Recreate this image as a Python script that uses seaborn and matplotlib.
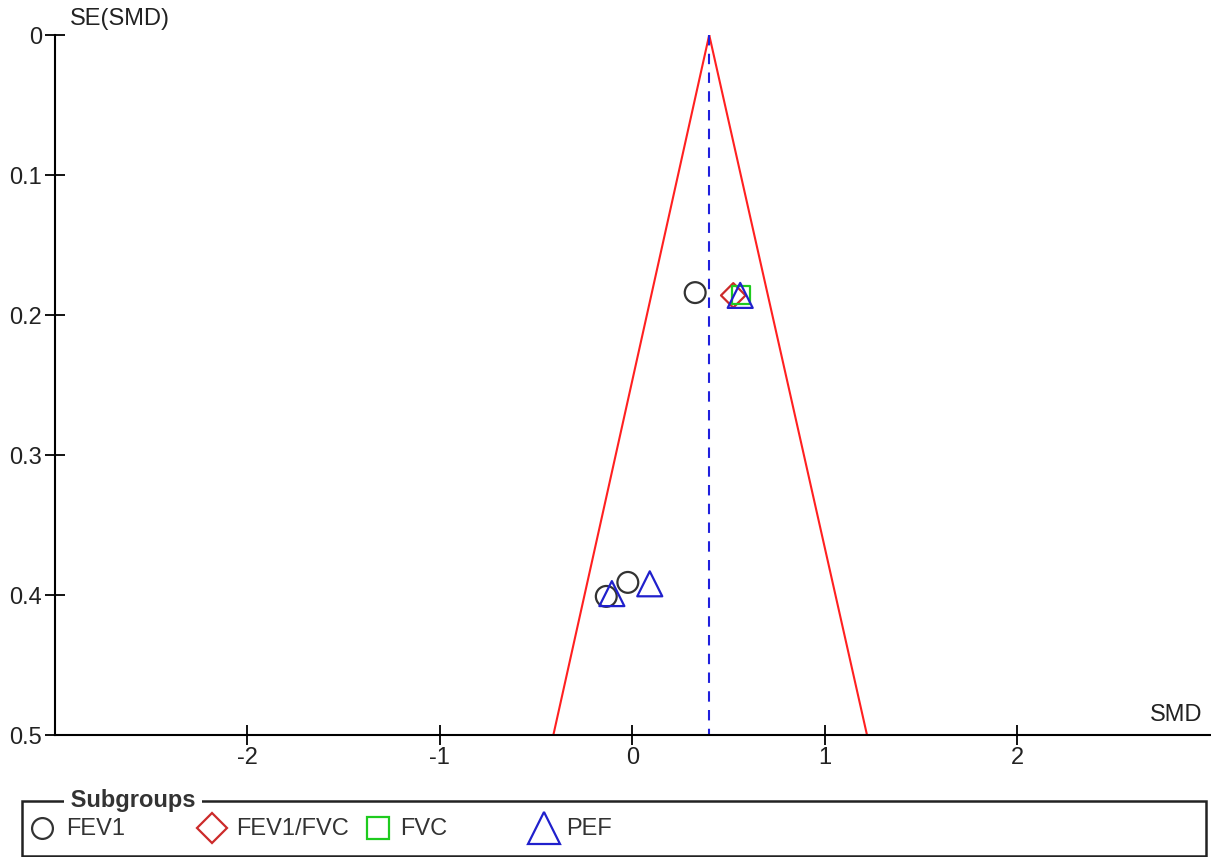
import matplotlib
matplotlib.use("Agg")
import matplotlib.pyplot as plt
import seaborn as sns
import pandas as pd
from matplotlib.lines import Line2D
from matplotlib.patches import Rectangle

# ---- data ----
subgroups = ["FEV1", "FEV1/FVC", "FVC", "PEF"]
study_subgroup = ["FEV1", "FEV1/FVC", "FVC", "PEF",
                  "FEV1", "PEF", "FEV1", "PEF"]
smd = [0.327, 0.525, 0.566, 0.561, -0.135, -0.106, -0.023, 0.091]
se_smd = [0.184, 0.186, 0.186, 0.186, 0.401, 0.399, 0.391, 0.392]
pooled_smd = 0.40
funnel_se = [0.0, 0.5]
funnel_left = [0.40, -0.41]
funnel_right = [0.40, 1.22]
x_ticks = [-2, -1, 0, 1, 2]
y_ticks = [0, 0.1, 0.2, 0.3, 0.4, 0.5]
y_ticklabels = ["0", "0.1", "0.2", "0.3", "0.4", "0.5"]

colors = {"FEV1": "#333333", "FEV1/FVC": "#cc2a2a", "FVC": "#1ecb1e", "PEF": "#2020cc"}
markers = {"FEV1": "o", "FEV1/FVC": "D", "FVC": "s", "PEF": "^"}
sizes = {"FEV1": 15.0, "FEV1/FVC": 12.5, "FVC": 13.0, "PEF": 18.0}
leg_sizes = {"FEV1": 15.0, "FEV1/FVC": 15.0, "FVC": 16.0, "PEF": 23.5}

df = pd.DataFrame({"subgroup": study_subgroup, "smd": smd, "se": se_smd})

sns.set_style("white")
plt.rcParams["font.family"] = ["Liberation Sans", "DejaVu Sans"]

W, H = 1211, 857
fig = plt.figure(figsize=(W / 100, H / 100), dpi=100)
ax = fig.add_axes([55 / W, 1 - 735 / H, (1209.5 - 55) / W, (735 - 35) / H])

# funnel lines
sns.lineplot(x=funnel_left, y=funnel_se, ax=ax, color="#ff2020", lw=1.5, sort=False, estimator=None)
sns.lineplot(x=funnel_right, y=funnel_se, ax=ax, color="#ff2020", lw=1.5, sort=False, estimator=None)
ax.plot([pooled_smd, pooled_smd], [0, 0.5], color="#2020dd", lw=1.5, ls=(0, (5, 4)))

for g in subgroups:
    sub = df[df["subgroup"] == g]
    if len(sub) == 0:
        continue
    sns.scatterplot(data=sub, x="smd", y="se", ax=ax, marker=markers[g],
                    s=sizes[g] ** 2, facecolor="none", edgecolor=colors[g],
                    color=colors[g], linewidth=1.6, zorder=5)

ax.set_xlim(-3, 3)
ax.set_ylim(0.5, 0)
ax.set_xticks(x_ticks)
ax.set_xticklabels([str(v) for v in x_ticks])
ax.set_yticks(y_ticks)
ax.set_yticklabels(y_ticklabels)
ax.set_xlabel("")
ax.set_ylabel("")
for s in ["top", "right"]:
    ax.spines[s].set_visible(False)
for s in ["left", "bottom"]:
    ax.spines[s].set_color("black")
    ax.spines[s].set_linewidth(1.5)
ax.tick_params(axis="both", direction="inout", length=15, width=1.3, color="black",
               labelsize=17, labelcolor="#222222", bottom=True, left=True)
ax.tick_params(axis="y", pad=2)
ax.tick_params(axis="x", pad=1)

fig.text(70 / W, 1 - 19 / H, "SE(SMD)", ha="left", va="center", fontsize=17, color="#222222")
fig.text(1202 / W, 1 - 715 / H, "SMD", ha="right", va="center", fontsize=17, color="#222222")

# legend box
fig.add_artist(Rectangle((22 / W, 1 - 856 / H), (1206 - 22) / W, (856 - 801) / H,
                         transform=fig.transFigure, fill=False, edgecolor="#222222", lw=1.8))
fig.text(64 / W, 1 - 801 / H, " Subgroups ", ha="left", va="center", fontsize=17,
         fontweight="bold", color="#333333",
         bbox=dict(facecolor="white", edgecolor="none", pad=0))
leg_marker_x = {"FEV1": 42, "FEV1/FVC": 211.5, "FVC": 378, "PEF": 543.5}
leg_text_x = {"FEV1": 66, "FEV1/FVC": 236, "FVC": 400, "PEF": 566}
for g in subgroups:
    fig.add_artist(Line2D([leg_marker_x[g] / W], [1 - 828 / H], transform=fig.transFigure,
                          marker=markers[g], ms=leg_sizes[g],
                          mfc="none", mec=colors[g], mew=1.6, ls="none"))
    fig.text(leg_text_x[g] / W, 1 - 829 / H, g, ha="left", va="center", fontsize=17, color="#333333")

fig.savefig("out.png", dpi=100)
